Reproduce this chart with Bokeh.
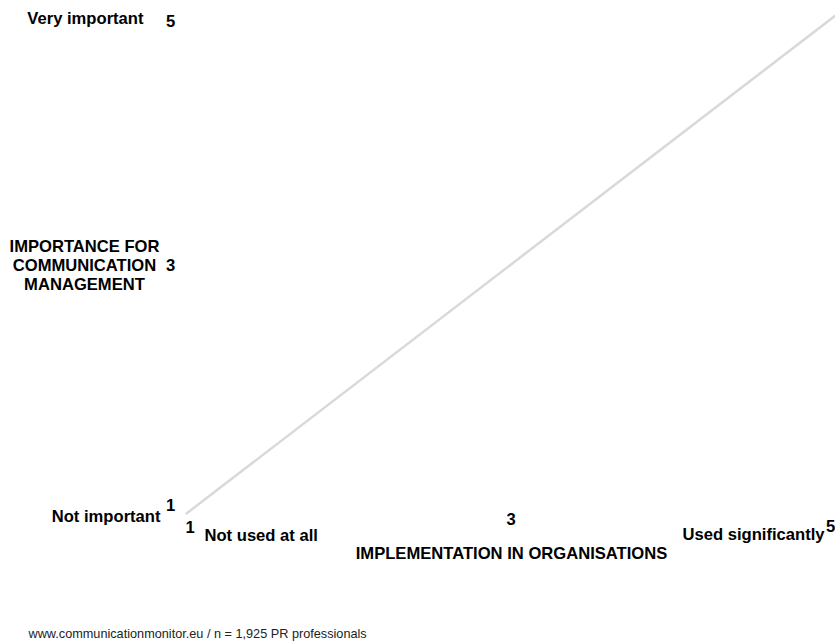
from bokeh.plotting import figure
from bokeh.models import Range1d, ColumnDataSource
from bokeh.core.properties import value
from bokeh.embed import file_html
from bokeh.resources import INLINE

# ---- data ----
diag_x = [1, 5]
diag_y = [1, 5]
ticks = [1, 3, 5]
tick_labels = ["1", "3", "5"]
y_axis_title = ["IMPORTANCE FOR", "COMMUNICATION", "MANAGEMENT"]
x_axis_title = "IMPLEMENTATION IN ORGANISATIONS"
y_low, y_high = "Not important", "Very important"
x_low, x_high = "Not used at all", "Used significantly"
footer = "www.communicationmonitor.eu / n = 1,925 PR professionals"

W, H = 835, 644
p = figure(width=W, height=H, output_backend="svg", toolbar_location=None,
           x_range=Range1d(-0.14638, 5.0), y_range=Range1d(-0.05221, 5.12048),
           min_border=0, outline_line_color=None)
p.axis.visible = False
p.grid.visible = False
p.background_fill_color = "white"
p.border_fill_color = "white"

p.line(diag_x, diag_y, line_color="#d9d9d9", line_width=2.5, line_cap="round")

FONT = value("Liberation Sans")
BIG = "16.6px"


def txt(x, y, t, dx, dy, align="left", size=BIG, style="bold", baseline="alphabetic", color="#000000"):
    src = ColumnDataSource(dict(x=x, y=y, t=t, dx=dx, dy=dy))
    p.text(x="x", y="y", text="t", x_offset="dx", y_offset="dy", source=src,
           text_font=FONT, text_font_size=size, text_font_style=style,
           text_align=align, text_baseline=baseline, text_color=color)


# y-axis tick numbers (at x=1)
txt([diag_x[0]] * 3, ticks, tick_labels, [-16, -16, -16], [-8, 1, 6], align="center")
# x-axis tick numbers (at y=1)
txt(ticks, [diag_y[0]] * 3, tick_labels, [3.5, 0, -5], [14, 6, 13], align="center")

# y end labels
txt([diag_x[0]], [ticks[-1]], [y_high], [-43], [3], align="right")
txt([diag_x[0]], [ticks[0]], [y_low], [-26], [3], align="right")
# y-axis title lines
txt([diag_x[0]] * 3, [ticks[1]] * 3, y_axis_title, [-102] * 3, [-18, 1, 20], align="center")

# x end labels
txt([ticks[0]], [diag_y[0]], [x_low], [18], [22], align="left")
txt([ticks[-1]], [diag_y[0]], [x_high], [-11], [21], align="right")
# x-axis title
txt([ticks[1]], [diag_y[0]], [x_axis_title], [0.5], [40], align="center")

# footer
txt([ticks[0]], [diag_y[0]], [footer], [-158], [121], align="left", size="12.7px", style="normal",
    color="#222222")

open("out.html", "w").write(file_html(p, INLINE))
